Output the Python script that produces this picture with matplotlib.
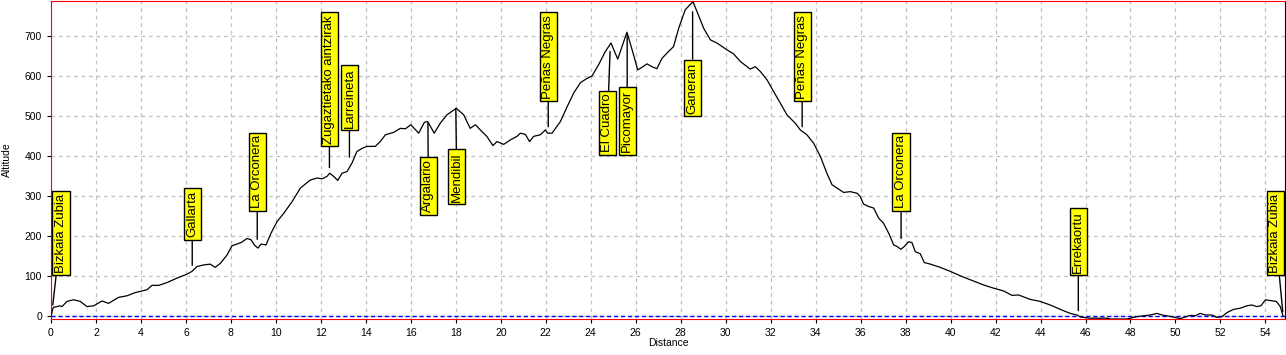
import matplotlib
matplotlib.use("Agg")
import matplotlib.pyplot as plt
from matplotlib.transforms import ScaledTranslation

# elevation profile (km, m)
dist = [0.0, 0.1, 0.27, 0.39, 0.49, 0.71, 1.0, 1.3, 1.6, 1.9, 2.27, 2.56, 3.0, 3.38, 3.75,
        4.27, 4.49, 4.79, 5.16, 5.6, 6.05, 6.27, 6.49, 6.79, 7.08, 7.3, 7.53, 7.83, 8.05,
        8.27, 8.49, 8.71, 8.89, 9.04, 9.2, 9.34, 9.56, 9.78, 10.05, 10.35, 10.72, 11.09,
        11.53, 11.83, 12.05, 12.27, 12.39, 12.57, 12.75, 12.94, 13.16, 13.38, 13.6, 13.83,
        14.05, 14.42, 14.64, 14.87, 15.24, 15.53, 15.76, 16.0, 16.35, 16.6, 16.75, 17.04,
        17.31, 17.61, 18.02, 18.35, 18.64, 18.87, 19.16, 19.38, 19.65, 19.83, 20.13, 20.42,
        20.72, 20.87, 21.09, 21.28, 21.46, 21.76, 21.98, 22.08, 22.28, 22.65, 22.95, 23.24,
        23.54, 23.84, 24.06, 24.35, 24.65, 24.9, 25.2, 25.39, 25.61, 25.84, 26.09, 26.32,
        26.5, 26.72, 26.94, 27.17, 27.46, 27.68, 27.91, 28.2, 28.4, 28.55, 28.72, 29.02,
        29.32, 29.61, 30.06, 30.35, 30.65, 31.09, 31.32, 31.54, 31.84, 32.13, 32.43, 32.72,
        33.09, 33.32, 33.61, 33.91, 34.21, 34.5, 34.73, 34.95, 35.24, 35.54, 35.84, 35.98,
        36.13, 36.35, 36.58, 36.8, 37.02, 37.25, 37.47, 37.62, 37.79, 37.94, 38.14, 38.28,
        38.43, 38.65, 38.83, 39.1, 39.54, 39.98, 40.43, 40.87, 41.47, 41.91, 42.36, 42.73,
        43.02, 43.54, 43.98, 44.43, 44.88, 45.32, 45.62, 45.77, 46.21, 46.95, 47.1, 47.84,
        48.29, 48.58, 48.88, 49.18, 49.4, 49.62, 49.99, 50.21, 50.44, 50.66, 50.88, 51.1,
        51.33, 51.62, 51.85, 52.07, 52.29, 52.58, 52.88, 53.18, 53.4, 53.62, 53.8, 54.0,
        54.22, 54.48, 54.66, 54.78]
alt = [0, 22, 24, 26, 24, 37, 41, 37, 24, 26, 38, 32, 47, 51, 59,
       66, 77, 77, 84, 95, 105, 112, 124, 128, 130, 122, 132, 153, 176,
       180, 185, 194, 191, 178, 170, 180, 178, 207, 236, 257, 286, 320,
       340, 345, 343, 349, 357, 349, 339, 357, 361, 382, 411, 419,
       424, 424, 436, 453, 459, 469, 468, 478, 457, 484, 486, 457,
       482, 503, 519, 503, 469, 478, 461, 449, 426, 436, 429, 440,
       449, 457, 454, 436, 449, 453, 465, 457, 457, 486, 523, 557,
       583, 594, 600, 628, 661, 682, 642, 673, 709, 665, 615, 623,
       630, 623, 618, 644, 661, 673, 719, 765, 777, 785, 761, 719,
       690, 682, 665, 655, 636, 617, 623, 611, 590, 561, 532, 503,
       482, 465, 453, 432, 399, 357, 328, 320, 309, 311, 307, 299,
       280, 274, 270, 245, 232, 207, 178, 174, 167, 174, 186, 184,
       161, 156, 134, 130, 122, 112, 101, 91, 78, 70, 63, 52,
       53, 42, 37, 28, 17, 7, 3, -2, -5, -5, -7, -7,
       -1, 1, 3, 7, 3, 1, -3, -6, -2, 2, 1, 7,
       3, 3, -3, -1, 9, 17, 20, 26, 28, 24, 26, 41,
       39, 37, 24, 1]

# waypoints
wp_names = ["Bizkaia Zubia", "Gallarta", "La Orconera", "Zugaztietako aintzirak", "Larreineta",
            "Argalario", "Mendibil", "Peñas Negras", "El Cuadro", "Picomayor", "Ganeran",
            "Peñas Negras", "La Orconera", "Errekaortu", "Bizkaia Zubia"]
wp_dist = [0.08, 6.28, 9.17, 12.38, 13.27, 16.76, 18.0, 22.11, 24.86, 25.62, 28.53,
           33.4, 37.8, 45.68, 54.77]
wp_alt = [28, 127, 192, 371, 397, 482, 519, 473, 661, 706, 760, 473, 194, 14, 11]

# where the yellow label boxes sit (box bottom)
label_x = [0.44, 6.28, 9.17, 12.38, 13.27, 16.78, 18.04, 22.11, 24.74, 25.62, 28.53,
           33.4, 37.8, 45.68, 54.44]
label_y = [100, 188, 260, 422, 462, 250, 277, 534, 400, 400, 497, 534, 260, 100, 100]

plt.rcParams['font.family'] = ['Liberation Sans', 'DejaVu Sans']

fig = plt.figure(figsize=(12.86, 3.55), dpi=100)
ax = fig.add_axes([51 / 1286, 36 / 355, 1234 / 1286, 318 / 355])

ax.plot(dist, alt, color='black', lw=0.9, zorder=3)
ax.axhline(0, color='#0000ff', lw=1, ls=(0, (3, 2)), zorder=2)

ax.set_xlim(0, 54.87)
ax.set_ylim(-7, 787)
ax.set_xticks(range(0, 55, 2))
ax.set_yticks(range(0, 701, 100))
ax.grid(True, color='#c0c0c0', ls=(0, (3, 3)), lw=0.9)
ax.tick_params(labelsize=7.5, length=3, color='black')

for side in ['left', 'top', 'bottom']:
    ax.spines[side].set_color('#ff0000')
ax.spines['right'].set_color('black')

ax.set_xlabel('Distance', fontsize=7.5)
ax.set_ylabel('Altitude', fontsize=7.5)
ax.xaxis.set_label_coords(0.5, -0.06)
ax.yaxis.set_label_coords(-0.032, 0.5)

pad = 0.2
fs = 9.5
shift = ax.transData + ScaledTranslation(0, pad * fs / 72 + 0.01, fig.dpi_scale_trans)
for name, px, py, bx, by in zip(wp_names, wp_dist, wp_alt, label_x, label_y):
    ax.annotate(name, xy=(px, py), xytext=(bx, by), textcoords=shift,
                rotation=90, ha='center', va='bottom', fontsize=fs,
                bbox=dict(boxstyle='square,pad=%s' % pad, fc='#ffff00', ec='black', lw=1),
                arrowprops=dict(arrowstyle='-', color='black', lw=1, shrinkA=0, shrinkB=0),
                annotation_clip=False, zorder=5)

fig.savefig('out.png', dpi=100)
